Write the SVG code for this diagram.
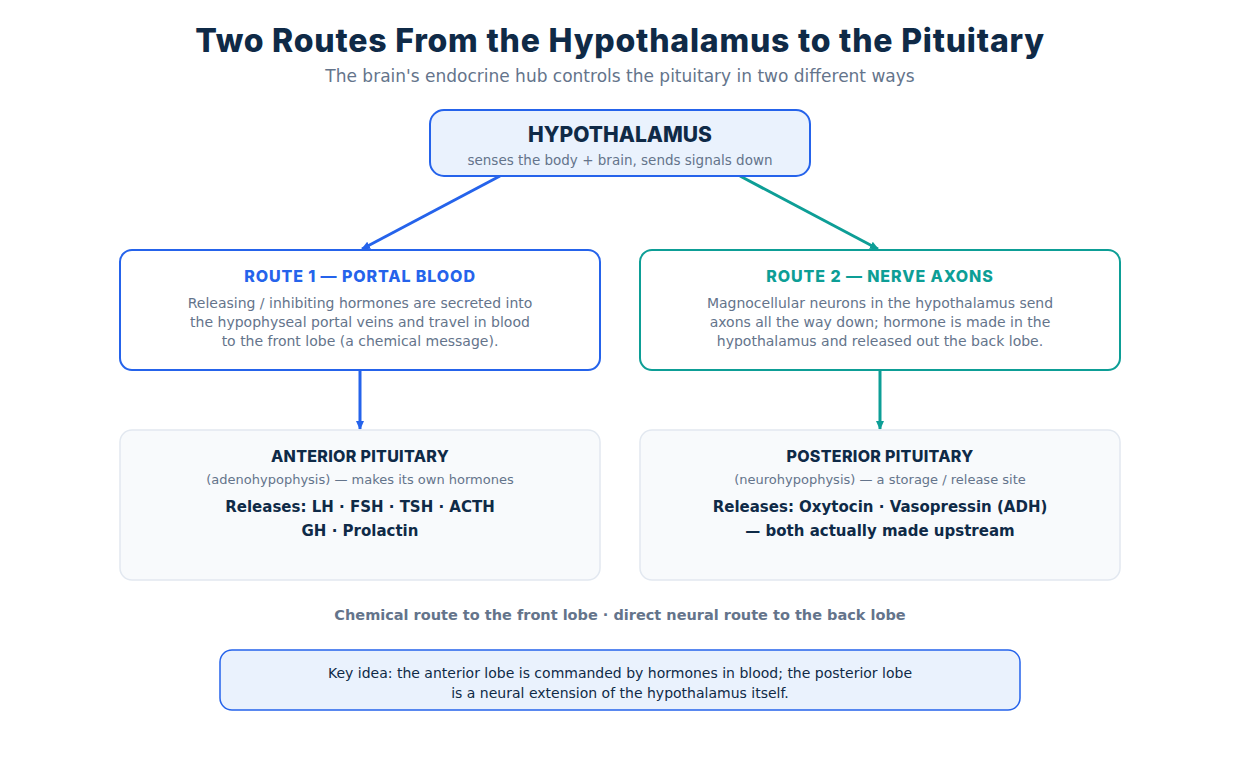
<svg xmlns="http://www.w3.org/2000/svg" width="1240" height="780" viewBox="0 0 1240 780">
<defs>
<marker id="ab" markerWidth="10" markerHeight="10" refX="8" refY="5" orient="auto" markerUnits="userSpaceOnUse"><path d="M0,1 L9,5 L0,9 z" fill="#2563eb"/></marker>
<marker id="at" markerWidth="10" markerHeight="10" refX="8" refY="5" orient="auto" markerUnits="userSpaceOnUse"><path d="M0,1 L9,5 L0,9 z" fill="#0d9e96"/></marker>
</defs>
<style>
text{font-family:"DejaVu Sans",sans-serif;text-anchor:middle}
.h{font-family:Inter,"DejaVu Sans",sans-serif;font-weight:800}
.g{fill:#64748b;font-size:14px}
.d{fill:#0f2a47}
</style>
<rect width="1240" height="780" fill="#fff"/>
<text x="620" y="52" class="h d" font-size="32" letter-spacing="0.8">Two Routes From the Hypothalamus to the Pituitary</text>
<text x="620" y="82" fill="#64748b" font-size="17">The brain's endocrine hub controls the pituitary in two different ways</text>
<g id="connectors" stroke-width="3" fill="none">
<line x1="500" y1="176" x2="362" y2="249" stroke="#2563eb" marker-end="url(#ab)"/>
<line x1="740" y1="176" x2="878" y2="249" stroke="#0d9e96" marker-end="url(#at)"/>
<line x1="360" y1="370" x2="360" y2="429" stroke="#2563eb" marker-end="url(#ab)"/>
<line x1="880" y1="370" x2="880" y2="429" stroke="#0d9e96" marker-end="url(#at)"/>
</g>
<g id="hypothalamus">
<rect x="430" y="110" width="380" height="66" rx="14" fill="#eaf2fd" stroke="#2563eb" stroke-width="2"/>
<text x="620" y="142" class="h d" font-size="21">HYPOTHALAMUS</text>
<text x="620" y="165" fill="#64748b" font-size="13.5">senses the body + brain, sends signals down</text>
</g>
<g id="route1">
<rect x="120" y="250" width="480" height="120" rx="12" fill="#fff" stroke="#2563eb" stroke-width="2"/>
<text x="360" y="282" class="h" fill="#2563eb" font-size="16" letter-spacing="0.9">ROUTE 1 — PORTAL BLOOD</text>
<text x="360" y="308" class="g">Releasing / inhibiting hormones are secreted into</text>
<text x="360" y="327" class="g">the hypophyseal portal veins and travel in blood</text>
<text x="360" y="346" class="g">to the front lobe (a chemical message).</text>
</g>
<g id="route2">
<rect x="640" y="250" width="480" height="120" rx="12" fill="#fff" stroke="#0d9e96" stroke-width="2"/>
<text x="880" y="282" class="h" fill="#0d9e96" font-size="16" letter-spacing="0.9">ROUTE 2 — NERVE AXONS</text>
<text x="880" y="308" class="g">Magnocellular neurons in the hypothalamus send</text>
<text x="880" y="327" class="g">axons all the way down; hormone is made in the</text>
<text x="880" y="346" class="g">hypothalamus and released out the back lobe.</text>
</g>
<g id="anterior">
<rect x="120" y="430" width="480" height="150" rx="12" fill="#f8fafc" stroke="#e2e8f0" stroke-width="1.5"/>
<text x="360" y="462" class="h d" font-size="16" letter-spacing="0.3">ANTERIOR PITUITARY</text>
<text x="360" y="484" fill="#64748b" font-size="13">(adenohypophysis) — makes its own hormones</text>
<text x="360" y="512" class="d" font-size="15" font-weight="bold">Releases: LH · FSH · TSH · ACTH</text>
<text x="360" y="536" class="d" font-size="15" font-weight="bold">GH · Prolactin</text>
</g>
<g id="posterior">
<rect x="640" y="430" width="480" height="150" rx="12" fill="#f8fafc" stroke="#e2e8f0" stroke-width="1.5"/>
<text x="880" y="462" class="h d" font-size="16" letter-spacing="0.3">POSTERIOR PITUITARY</text>
<text x="880" y="484" fill="#64748b" font-size="13">(neurohypophysis) — a storage / release site</text>
<text x="880" y="512" class="d" font-size="15" font-weight="bold">Releases: Oxytocin · Vasopressin (ADH)</text>
<text x="880" y="536" class="d" font-size="15" font-weight="bold">— both actually made upstream</text>
</g>
<text x="620" y="620" fill="#64748b" font-size="14.5" font-weight="bold">Chemical route to the front lobe · direct neural route to the back lobe</text>
<g id="key">
<rect x="220" y="650" width="800" height="60" rx="12" fill="#eaf2fd" stroke="#2563eb" stroke-width="1.5"/>
<text x="620" y="678" class="d" font-size="14">Key idea: the anterior lobe is commanded by hormones in blood; the posterior lobe</text>
<text x="620" y="698" class="d" font-size="14">is a neural extension of the hypothalamus itself.</text>
</g>
</svg>
